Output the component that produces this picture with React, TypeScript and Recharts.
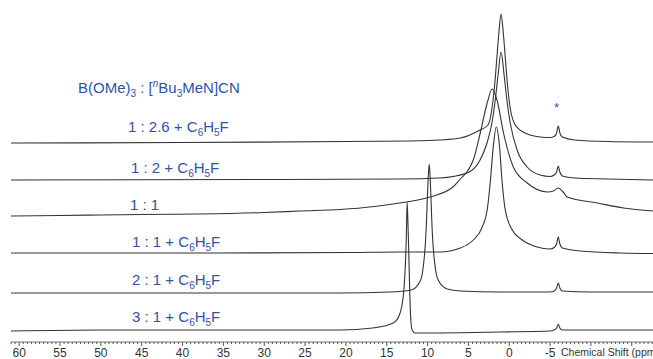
import { LineChart, Line, XAxis, YAxis } from 'recharts';

// [ppm, intensity], left to right (high ppm -> low ppm)
const spec1 = [
  [61, 0], [40, 0.5], [20, 1.5], [12, 2], [8.5, 3], [6.0, 5], [3.57, 13], [2.6, 18], [1.98, 43], [1.74, 62],
  [1.49, 88], [1.25, 112], [1.0, 129], [0.75, 112], [0.51, 88], [0.26, 62], [0.02, 43], [-0.6, 20], [-1.7, 11],
  [-3.8, 6], [-5.0, 5.5], [-5.5, 6.5], [-5.8, 10], [-6.0, 17], [-6.2, 10], [-6.5, 6], [-8, 3], [-12, 1.5], [-17.6, 1],
];
const spec2 = [
  [61, 0], [30, 0.5], [13.3, 1], [8.5, 2], [5.17, 7], [3.57, 20], [2.72, 37], [2.1, 58], [1.74, 78], [1.37, 105],
  [1.0, 128], [0.63, 105], [0.26, 78], [-0.1, 58], [-0.96, 30], [-2.19, 13], [-3.78, 5], [-5.0, 3.5], [-5.5, 5],
  [-5.8, 8], [-6.0, 14], [-6.2, 8], [-6.5, 4], [-8, 2], [-12, 1], [-17.6, 0],
];
const spec3 = [
  [61, 3], [55, 3.5], [50, 4], [45, 4.5], [37.9, 5], [30, 6.5], [25.6, 8], [20.7, 9.5], [16.5, 12.5], [13.4, 16],
  [9.7, 22], [6.9, 32], [6.0, 40], [5.1, 48], [4.4, 59], [3.55, 86], [2.7, 116], [2.1, 130], [1.5, 119], [0.7, 86],
  [-0.5, 52], [-2.2, 36], [-4.7, 27], [-5.4, 28], [-6.0, 31], [-6.6, 27], [-7.1, 22], [-10.8, 16], [-14, 11], [-17.6, 8],
];
const spec4 = [
  [61, 1], [37.9, 1], [19.5, 1.5], [13.4, 2], [8.5, 2], [6.0, 6], [4.4, 14], [3.3, 27], [2.7, 44], [2.33, 71],
  [1.96, 107], [1.59, 127], [1.23, 111], [0.86, 71], [0.49, 44], [-0.37, 24], [-1.6, 14], [-3.4, 7], [-5.0, 5],
  [-5.5, 6.5], [-5.8, 10], [-6.0, 17], [-6.2, 10], [-6.5, 6], [-8.7, 3], [-13.6, 1], [-17.6, 0.5],
];
const spec5 = [
  [61, 0], [20.7, 0], [14.6, 1], [12.0, 3], [10.9, 12], [10.53, 26], [10.17, 64], [10.05, 90], [9.92, 115], [9.8, 129],
  [9.68, 115], [9.56, 90], [9.44, 64], [9.07, 26], [8.7, 13], [7.6, 4], [6.0, 2], [1.1, 1], [-5.0, 1], [-5.5, 2],
  [-5.8, 5], [-6.0, 10], [-6.2, 5], [-6.5, 2], [-10, 1], [-17.6, 1],
];
const spec6 = [
  [61, 1], [50.1, 2], [31.7, 2], [20.7, 2], [16.7, 4], [14.2, 9], [13.4, 18], [12.9, 42], [12.6, 95], [12.5, 130],
  [12.37, 100], [12.1, 20], [11.9, 2], [11.5, -1], [9.7, -1], [1.1, 0], [-5.0, 1], [-5.5, 2], [-5.8, 4], [-6.0, 8],
  [-6.2, 4], [-6.5, 2], [-11, 2], [-17.6, 2],
];

// vertical stacking offset of each trace (intensity units)
const offsets = [199, 162, 123, 88, 49, 10];
const spectra = [spec1, spec2, spec3, spec4, spec5, spec6];

const ratios = ['1 : 2.6', '1 : 2', '1 : 1', '1 : 1', '2 : 1', '3 : 1'];
const withSolvent = [true, true, false, true, true, true];
const labelTops = [119, 160, 197, 234, 272, 309];
const labelLefts = [128, 131, 130, 132, 132, 132];

const tickLabels = [60, 55, 50, 45, 40, 35, 30, 25, 20, 15, 10, 5, 0, -5];

const BLUE = '#2f52a6';
const INK = '#333';

const minorTicks: number[] = [];
for (let t = 61; t >= -17.5; t -= 0.5) minorTicks.push(t);

const AxisTick = (props: any) => {
  const { x, y, payload } = props;
  const v = payload.value;
  const major = Math.abs(v % 5) < 1e-6;
  const showLabel = major && tickLabels.includes(v);
  return (
    <g>
      <line x1={x} x2={x} y1={y} y2={y + (major ? 4 : 2)} stroke="#555" strokeWidth={1} />
      {showLabel && (
        <text x={x} y={y + 15} textAnchor="middle" fontSize={12} fill={INK} fontFamily="Liberation Sans, Arial, sans-serif">
          {v}
        </text>
      )}
    </g>
  );
};

const Sub = ({ children }: any) => (
  <sub style={{ fontSize: 10, verticalAlign: '-4px', lineHeight: 0 }}>{children}</sub>
);

const textStyle = {
  position: 'absolute' as const,
  fontSize: 15,
  color: BLUE,
  whiteSpace: 'nowrap' as const,
  lineHeight: '16px',
  fontFamily: 'Liberation Sans, Arial, sans-serif',
};

export default function App() {
  return (
    <div style={{ position: 'fixed', left: 0, top: 0, width: 653, height: 359, overflow: 'hidden', background: '#fff' }}>
      <LineChart width={653} height={359} margin={{ top: 0, right: 0, left: 11, bottom: 0 }}>
        <XAxis
          dataKey="ppm"
          type="number"
          domain={[-17.6, 61]}
          reversed
          allowDataOverflow
          ticks={minorTicks}
          interval={0}
          tick={<AxisTick />}
          tickLine={false}
          tickSize={0}
          tickMargin={0}
          height={17}
          axisLine={{ stroke: '#777' }}
        />
        <YAxis hide type="number" domain={[0, 342]} allowDataOverflow />
        {spectra.map((s, i) => (
          <Line
            key={i}
            data={s.map(([ppm, h]) => ({ ppm, v: h + offsets[i] }))}
            dataKey="v"
            type="monotone"
            stroke={INK}
            strokeWidth={1.1}
            dot={false}
            isAnimationActive={false}
          />
        ))}
      </LineChart>

      <div style={{ ...textStyle, left: 78, top: 80 }}>
        B(OMe)<Sub>3</Sub> : [<sup style={{ fontSize: 10, fontStyle: 'italic', verticalAlign: '6px', lineHeight: 0 }}>n</sup>Bu<Sub>3</Sub>MeN]CN
      </div>
      {ratios.map((r, i) => (
        <div key={i} style={{ ...textStyle, left: labelLefts[i], top: labelTops[i] }}>
          {r}
          {withSolvent[i] && (
            <>
              {' + C'}<Sub>6</Sub>H<Sub>5</Sub>F
            </>
          )}
        </div>
      ))}
      <div style={{ ...textStyle, left: 554, top: 100, fontSize: 13 }}>*</div>
      <div style={{ ...textStyle, left: 561, top: 345, fontSize: 10.5, lineHeight: '14px', color: INK }}>Chemical Shift (ppm)</div>
    </div>
  );
}
